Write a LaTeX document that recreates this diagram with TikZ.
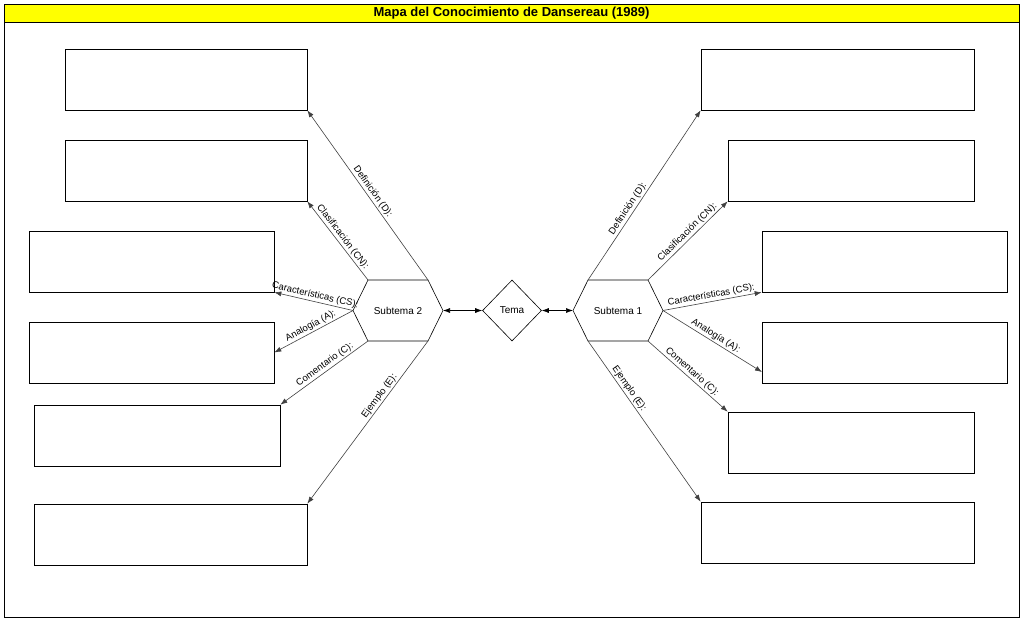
\documentclass[tikz,border=0pt]{standalone}
\usepackage{fontspec}
\setmainfont{Liberation Sans}
\usetikzlibrary{shapes.geometric,arrows.meta}
\tikzset{
    every picture/.style={line width=0.6pt},
    % empty answer boxes
    blank box/.style={draw, minimum height=61pt, inner sep=0pt},
    % labelled connectors
    link/.style={draw=black!75, -{Latex[length=7pt,width=5pt]}},
    link label/.style={font=\fontsize{9.5}{11}\selectfont, sloped, inner sep=1.5pt},
    hub label/.style={font=\fontsize{10}{12}\selectfont}
}
\definecolor{titleBar}{RGB}{255,255,0}

\begin{document}
\begin{tikzpicture}[x=1pt,y=-1pt]

% Set the canvas size
\path[use as bounding box] (0,0) rectangle (1024,622);

% Frame and title
\draw (4,4) rectangle (1019,617);
\filldraw[fill=titleBar] (4,4) rectangle (1019,22);
\node[font=\bfseries\fontsize{13}{15}\selectfont] (title) at (511.5,13) {Mapa del Conocimiento de Dansereau (1989)};

% Centre diamond
\node[draw, diamond, minimum width=59pt, minimum height=61pt, inner sep=0pt, hub label] (tema) at (512,310.5) {Tema};

% Subtema 2 hexagon
\coordinate (s2l) at (353,310.5);
\coordinate (s2tl) at (368,280);
\coordinate (s2tr) at (428,280);
\coordinate (s2r) at (443,310.5);
\coordinate (s2br) at (428,341);
\coordinate (s2bl) at (368,341);
\draw (s2l) -- (s2tl) -- (s2tr) -- (s2r) -- (s2br) -- (s2bl) -- cycle;
\node[hub label] (sub2) at (398,310.5) {Subtema 2};

% Subtema 1 hexagon
\coordinate (s1l) at (573,310.5);
\coordinate (s1tl) at (588,280);
\coordinate (s1tr) at (648,280);
\coordinate (s1r) at (663,310.5);
\coordinate (s1br) at (648,341);
\coordinate (s1bl) at (588,341);
\draw (s1l) -- (s1tl) -- (s1tr) -- (s1r) -- (s1br) -- (s1bl) -- cycle;
\node[hub label] (sub1) at (618,310.5) {Subtema 1};

\draw[{Latex[length=7pt,width=5pt]}-{Latex[length=7pt,width=5pt]}] (s2r) -- (tema.west);
\draw[{Latex[length=7pt,width=5pt]}-{Latex[length=7pt,width=5pt]}] (tema.east) -- (s1l);

% Left boxes
\node[blank box, minimum width=242pt] (l1) at (186,79.5) {};
\node[blank box, minimum width=242pt] (l2) at (186,170.5) {};
\node[blank box, minimum width=245pt] (l3) at (151.5,261.5) {};
\node[blank box, minimum width=245pt] (l4) at (151.5,352.5) {};
\node[blank box, minimum width=246pt] (l5) at (157,435.5) {};
\node[blank box, minimum width=273pt] (l6) at (170.5,534.5) {};

% Right boxes
\node[blank box, minimum width=273pt] (r1) at (837.5,79.5) {};
\node[blank box, minimum width=246pt] (r2) at (851,170.5) {};
\node[blank box, minimum width=245pt] (r3) at (884.5,261.5) {};
\node[blank box, minimum width=245pt] (r4) at (884.5,352.5) {};
\node[blank box, minimum width=246pt] (r5) at (851,442.5) {};
\node[blank box, minimum width=273pt] (r6) at (837.5,532.5) {};
\coordinate (r4in) at (762,372);

% Left connectors
\draw[link] (s2tr) -- node[link label, above, pos=0.5] {Definición (D):} (l1.south east);
\draw[link] (s2tl) -- node[link label, above, pos=0.5] {Clasificación (CN):} (l2.south east);
\draw[link] (s2l) -- node[link label, above, pos=0.5] {Características (CS):} (l3.south east);
\draw[link] (s2l) -- node[link label, above, pos=0.5] {Analogía (A):} (l4.east);
\draw[link] (s2bl) -- node[link label, above, pos=0.45] {Comentario (C):} (l5.north east);
\draw[link] (s2br) -- node[link label, above, pos=0.36] {Ejemplo (E):} (l6.north east);

% Right connectors
\draw[link] (s1tl) -- node[link label, above, pos=0.4] {Definición (D):} (r1.south west);
\draw[link] (s1tr) -- node[link label, above, pos=0.55] {Clasificación (CN):} (r2.south west);
\draw[link] (s1r) -- node[link label, above, pos=0.5] {Características (CS):} (r3.south west);
\draw[link] (s1r) -- node[link label, above, pos=0.5] {Analogía (A):} (r4in);
\draw[link] (s1br) -- node[link label, above, pos=0.5] {Comentario (C):} (r5.north west);
\draw[link] (s1bl) -- node[link label, above, pos=0.32] {Ejemplo (E):} (r6.north west);

\end{tikzpicture}
\end{document}
